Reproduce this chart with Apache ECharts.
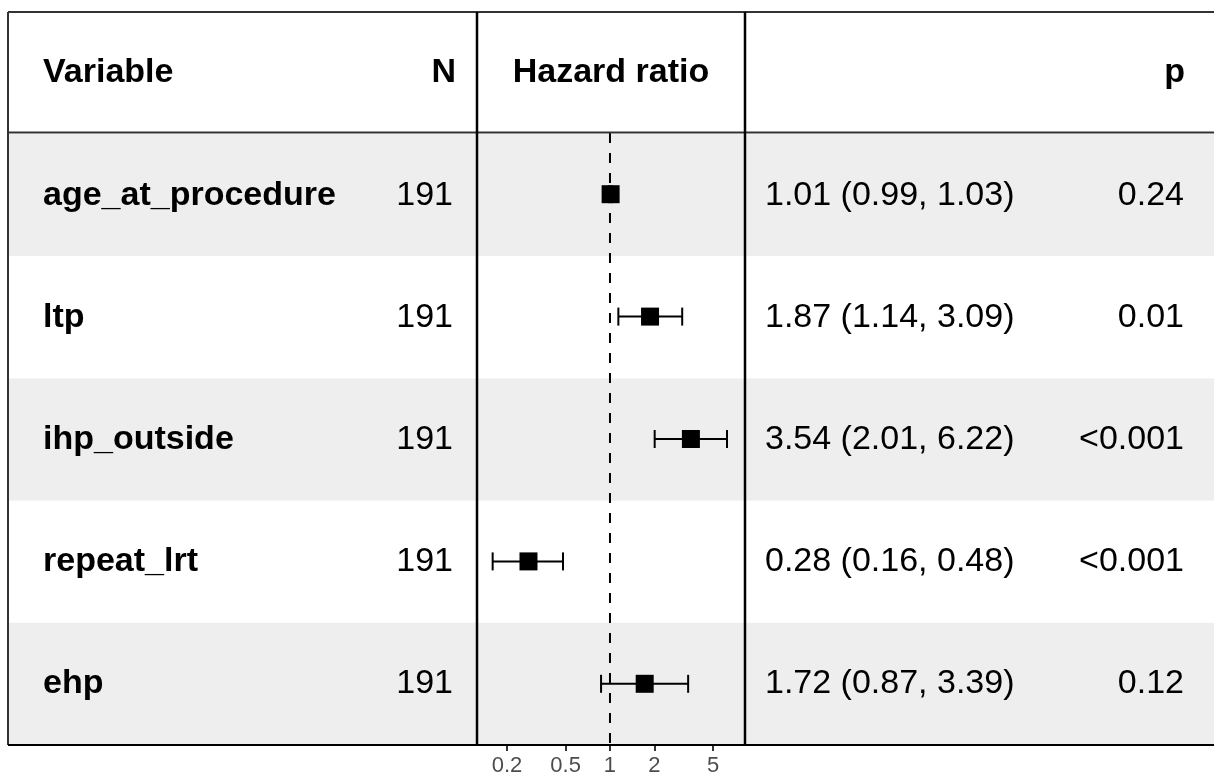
<!DOCTYPE html>
<html>
<head>
<meta charset="utf-8">
<script src="https://cdn.jsdelivr.net/npm/echarts@6/dist/echarts.min.js"></script>
<style>html,body{margin:0;padding:0;background:#fff;}#chart{width:1214px;height:777px;}</style>
</head>
<body>
<div id="chart"></div>
<script>
// ---- data ----
const variables = ['age_at_procedure', 'ltp', 'ihp_outside', 'repeat_lrt', 'ehp'];
const nValues = [191, 191, 191, 191, 191];
const hrEstimate = [1.01, 1.87, 3.54, 0.28, 1.72];
const hrLower = [0.99, 1.14, 2.01, 0.16, 0.87];
const hrUpper = [1.03, 3.09, 6.22, 0.48, 3.39];
const pValues = ['0.24', '0.01', '<0.001', '<0.001', '0.12'];
const headerLabels = { variable: 'Variable', n: 'N', hr: 'Hazard ratio', p: 'p' };
const tickValues = [0.2, 0.5, 1, 2, 5];
const referenceValue = 1;
const axisRange = [0.1253, 8.24];

// ---- layout ----
const FONT = '"Liberation Sans", Arial, Helvetica, sans-serif';
const FS = 34;
const tableLeft = 8, tableTop = 12, tableBottom = 745, headerBottom = 133;
const plotLeft = 477, plotRight = 745;
const colVar = 35, colNHead = 448, colN = 445, colHRHead = 603, colHR = 757, colPHead = 1177, colP = 1176;

const rowCats = ['__header__'].concat(variables);
const log10 = v => Math.log10(v);

function textSeries(points, align, bold) {
  return {
    type: 'scatter', xAxisIndex: 0, yAxisIndex: 0, silent: true,
    symbolSize: 1, itemStyle: { color: 'rgba(0,0,0,0)', opacity: 1 }, z: 5,
    data: points.map(p => ({ value: [p[0], p[1]], name: p[2] })),
    label: {
      show: true, position: 'inside', align: align, verticalAlign: 'middle',
      formatter: d => d.name, color: '#000', opacity: 1, fontFamily: FONT, fontSize: FS,
      fontWeight: bold ? 'bold' : 'normal'
    }
  };
}

const headerPts = [[colVar, '__header__', headerLabels.variable]];
const varPts = variables.map(v => [colVar, v, v]);
const nPts = variables.map((v, i) => [colN, v, String(nValues[i])]);
const hrPts = variables.map((v, i) => [colHR, v,
  hrEstimate[i].toFixed(2) + ' (' + hrLower[i].toFixed(2) + ', ' + hrUpper[i].toFixed(2) + ')']);
const pPts = variables.map((v, i) => [colP, v, pValues[i]]);

const chart = echarts.init(document.getElementById('chart'), null, { renderer: 'canvas' });

const line = (x1, y1, x2, y2, color, w) => ({
  type: 'line', z: 100, silent: true,
  shape: { x1, y1, x2, y2 }, style: { stroke: color, lineWidth: w }
});

chart.setOption({
  backgroundColor: '#ffffff',
  animation: false,
  grid: [
    { left: tableLeft, right: 0, top: tableTop, height: tableBottom - tableTop },
    { left: plotLeft, width: plotRight - plotLeft, top: headerBottom, height: tableBottom - headerBottom }
  ],
  xAxis: [
    { gridIndex: 0, type: 'value', min: 0, max: 1214 - tableLeft, show: false },
    {
      gridIndex: 1, type: 'value', min: log10(axisRange[0]), max: log10(axisRange[1]),
      axisLine: { show: true, lineStyle: { color: '#000', width: 2 } },
      splitLine: { show: false },
      axisTick: { show: true, length: 6, customValues: tickValues.map(log10),
        lineStyle: { color: '#333', width: 2 } },
      axisLabel: { show: true, margin: 10, customValues: tickValues.map(log10),
        formatter: v => String(Math.round(Math.pow(10, v) * 10) / 10),
        color: '#4D4D4D', fontFamily: FONT, fontSize: 22 }
    }
  ],
  yAxis: [
    {
      gridIndex: 0, type: 'category', data: rowCats, inverse: true,
      axisLine: { show: false }, axisTick: { show: false }, axisLabel: { show: false },
      splitLine: { show: false },
      splitArea: { show: true, areaStyle: { color: ['#FFFFFF', '#EEEEEE'] } }
    },
    {
      gridIndex: 1, type: 'category', data: variables, inverse: true,
      axisLine: { show: false }, axisTick: { show: false }, axisLabel: { show: false },
      splitLine: { show: false }
    }
  ],
  series: [
    textSeries(headerPts, 'left', true),
    textSeries([[colNHead, '__header__', headerLabels.n]], 'right', true),
    textSeries([[colHRHead, '__header__', headerLabels.hr]], 'center', true),
    textSeries([[colPHead, '__header__', headerLabels.p]], 'right', true),
    textSeries(varPts, 'left', true),
    textSeries(nPts, 'right', false),
    textSeries(hrPts, 'left', false),
    textSeries(pPts, 'right', false),
    {
      // reference (null effect) line
      type: 'custom', xAxisIndex: 1, yAxisIndex: 1, silent: true, z: 2,
      data: [[log10(referenceValue), 0]],
      renderItem: function (params, api) {
        const p = api.coord([api.value(0), 0]);
        const cs = params.coordSys;
        return {
          type: 'line',
          shape: { x1: p[0], y1: cs.y, x2: p[0], y2: cs.y + cs.height },
          style: { stroke: '#000', lineWidth: 2, lineDash: [10, 10] }
        };
      }
    },
    {
      // confidence intervals
      type: 'custom', xAxisIndex: 1, yAxisIndex: 1, silent: true, z: 3,
      data: variables.map((v, i) => [i, log10(hrLower[i]), log10(hrUpper[i])]),
      renderItem: function (params, api) {
        const a = api.coord([api.value(1), api.value(0)]);
        const b = api.coord([api.value(2), api.value(0)]);
        const h = 9;
        const st = { stroke: '#000', lineWidth: 2 };
        return {
          type: 'group', children: [
            { type: 'line', shape: { x1: a[0], y1: a[1], x2: b[0], y2: b[1] }, style: st },
            { type: 'line', shape: { x1: a[0], y1: a[1] - h, x2: a[0], y2: a[1] + h }, style: st },
            { type: 'line', shape: { x1: b[0], y1: b[1] - h, x2: b[0], y2: b[1] + h }, style: st }
          ]
        };
      }
    },
    {
      type: 'scatter', xAxisIndex: 1, yAxisIndex: 1, silent: true, z: 6,
      symbol: 'rect', symbolSize: 18, itemStyle: { color: '#000', opacity: 1 },
      data: variables.map((v, i) => [log10(hrEstimate[i]), v])
    }
  ],
  graphic: [
    line(tableLeft, tableTop, 1214, tableTop, '#333', 2),
    line(tableLeft, tableTop, tableLeft, tableBottom, '#333', 2),
    line(tableLeft, headerBottom - 0.5, 1214, headerBottom - 0.5, '#333', 2),
    line(tableLeft, tableBottom, 1214, tableBottom, '#000', 2),
    line(plotLeft, tableTop, plotLeft, tableBottom, '#000', 2.5),
    line(plotRight, tableTop, plotRight, tableBottom, '#000', 2.5)
  ]
});
</script>
</body>
</html>
